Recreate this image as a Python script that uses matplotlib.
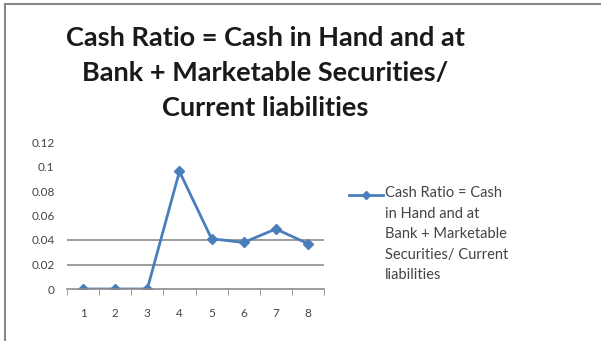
import matplotlib.pyplot as plt
from matplotlib.lines import Line2D
import numpy as np

categories = ["1", "2", "3", "4", "5", "6", "7", "8"]
cash_ratio = [0.0, 0.0, 0.0, 0.096, 0.041, 0.038, 0.049, 0.037]
y_ticks = [0, 0.02, 0.04, 0.06, 0.08, 0.1, 0.12]
y_tick_labels = ["0", "0.02", "0.04", "0.06", "0.08", "0.1", "0.12"]
grid_levels = [0.02, 0.04]

title = "Cash Ratio = Cash in Hand and at\nBank + Marketable Securities/\nCurrent liabilities"
legend_label = "Cash Ratio = Cash\nin Hand and at\nBank + Marketable\nSecurities/ Current\nliabilities"

blue = "#4a7ebb"
plt.rcParams['font.family'] = ['Lato', 'DejaVu Sans']

fig = plt.figure(figsize=(6.01, 3.41), dpi=100)

# outer frame (only top and left visible in the reference)
fig.add_artist(Line2D([5 / 601, 5 / 601], [0, 1 - 4 / 341], transform=fig.transFigure,
                      color="#888888", lw=1.5))
fig.add_artist(Line2D([5 / 601, 1], [1 - 4 / 341, 1 - 4 / 341], transform=fig.transFigure,
                      color="#888888", lw=1.5))

fig.text(265 / 601, 1 - 73 / 341, title, ha="center", va="center",
         fontsize=19.5, fontweight="bold", color="#1a1a1a", linespacing=1.55)

# axes area in pixels: x 67..324, y 142..289
ax = fig.add_axes([67 / 601, 1 - 289 / 341, (324 - 67) / 601, (289 - 142) / 341])
x = np.arange(len(categories))
ax.plot(x, cash_ratio, color=blue, lw=2, marker="D", markersize=5)
ax.set_xlim(-0.5, len(categories) - 0.5)
ax.set_ylim(0, 0.12)
for g in grid_levels:
    ax.axhline(g, color="#8c8c8c", lw=1.2, zorder=0)
ax.set_xticks(x)
ax.set_xticklabels(categories)
ax.set_xticks(np.arange(len(categories) + 1) - 0.5, minor=True)
ax.set_yticks(y_ticks)
ax.set_yticklabels(y_tick_labels)
ax.tick_params(axis="x", which="major", length=0, pad=14, labelsize=8.5, labelcolor="#444444")
ax.tick_params(axis="x", which="minor", length=4, color="#8c8c8c")
ax.tick_params(axis="y", length=0, pad=9, labelsize=8.5, labelcolor="#444444")
for s in ["top", "right", "left"]:
    ax.spines[s].set_visible(False)
ax.spines["bottom"].set_color("#8c8c8c")
ax.spines["bottom"].set_linewidth(1.2)
ax.set_facecolor("none")

# legend: handle aligned with the first text line, as in the reference
ly = 1 - 195 / 341
fig.add_artist(Line2D([349 / 601, 383 / 601], [ly, ly], transform=fig.transFigure,
                      color=blue, lw=2))
fig.add_artist(Line2D([366 / 601], [ly], transform=fig.transFigure,
                      color=blue, marker="D", markersize=4.5, lw=0))
fig.text(385 / 601, 1 - 186 / 341, legend_label, ha="left", va="top",
         fontsize=10.5, color="#444444", linespacing=1.6)

fig.savefig("out.png", dpi=100)
